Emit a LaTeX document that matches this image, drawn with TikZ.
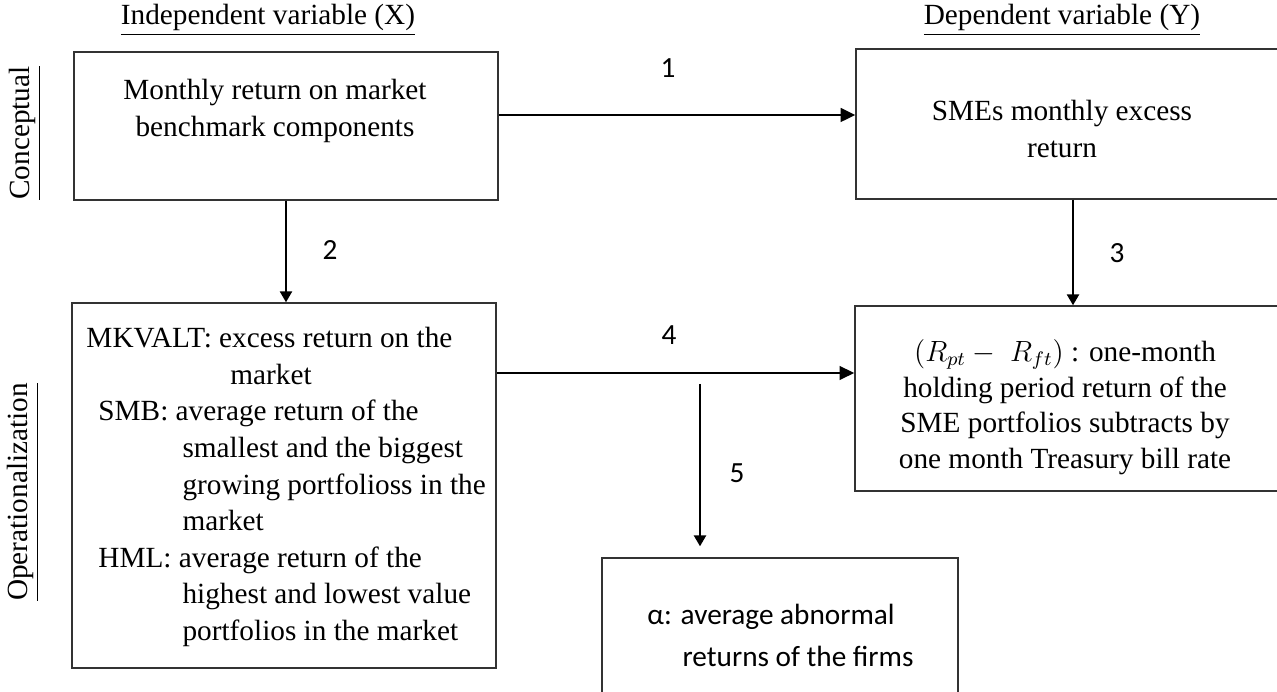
\documentclass[tikz,border=0pt]{standalone}
\usepackage{fontspec}
\setmainfont{Liberation Serif}
\newfontfamily\calibfont{Carlito}
\usetikzlibrary{positioning, arrows.meta, calc}

\tikzset{
	box/.style={draw=black!80, line width=0.6pt, inner sep=0pt},
	boxtext/.style={font=\fontsize{12}{15.5}\selectfont, align=center, inner sep=0pt},
	numlabel/.style={font=\calibfont\fontsize{12}{14}\selectfont, inner sep=0pt},
	heading/.style={font=\fontsize{12}{14}\selectfont, inner sep=0pt},
	thickarrow/.style={line width=1.2pt, -{Triangle[length=6pt,width=5.5pt]}},
	thinarrow/.style={line width=0.8pt, -{Triangle[length=4.5pt,width=5pt]}}
}

\begin{document}
\begin{tikzpicture}[x=0.41pt, y=-0.41pt]
		\useasboundingbox (0,0) rectangle (1277,692);
		
		%Headings
		\node[heading] (indepHead) at (268,20) {\underline{Independent variable (X)}};
		\node[heading] (depHead) at (1062,20) {\underline{Dependent variable (Y)}};
		\node[heading, rotate=90] (concLbl) at (25,133) {\underline{Conceptual}};
		\node[heading, rotate=90] (operLbl) at (23,492) {\underline{Operationalization}};
		
		%Boxes
		\node[box, minimum width=173.84pt, minimum height=60.68pt] (cpX) at (286,126) {};
		\node[box, minimum width=182pt, minimum height=61.5pt] (cpY) at (1078,124) {};
		\node[box, minimum width=173.84pt, minimum height=149.65pt] (opX) at (284,485.5) {};
		\node[box, minimum width=182.45pt, minimum height=75.85pt] (opY) at (1077.5,398.5) {};
		\node[box, minimum width=145.96pt, minimum height=66.42pt] (alpha) at (780,639) {};
		
		%Box texts
		\node[boxtext] (cpXtext) at (275,111) {Monthly return on market\\benchmark components};
		\node[boxtext] (cpYtext) at (1062,129) {SMEs monthly excess\\return};
		\node[boxtext, font=\fontsize{12}{14.6}\selectfont] (opYtext) at (1065,407)
		{$(R_{pt}-\;R_{ft})$ : one-month\\holding period return of the\\SME portfolios subtracts by\\one month Treasury bill rate};
		\node[boxtext, align=left, anchor=north west, font=\fontsize{12}{15}\selectfont] (opXtext) at (86,327)
		{MKVALT: excess return on the\\
			\hspace*{59pt}market\\
			\hspace*{4.9pt}SMB: average return of the\\
			\hspace*{39.4pt}smallest and the biggest\\
			\hspace*{39.4pt}growing portfolioss in the\\
			\hspace*{39.4pt}market\\
			\hspace*{4.9pt}HML: average return of the\\
			\hspace*{39.4pt}highest and lowest value\\
			\hspace*{39.4pt}portfolios in the market};
		\node[boxtext, align=left, anchor=north west, font=\calibfont\fontsize{12}{17}\selectfont] (alphatext) at (647,604)
		{α: average abnormal\\\hspace*{14.4pt}returns of the firms};
		
		%Arrows
		\coordinate (rowOne) at (0,115);
		\coordinate (rowFour) at (0,373);
		\coordinate (colThree) at (1073,0);
		\coordinate (split) at (700,384);
		\draw[thickarrow] (cpX.east |- rowOne) -- (cpY.west |- rowOne);
		\draw[thinarrow] (cpX.south) -- (cpX.south |- opX.north);
		\draw[thinarrow] (cpY.south -| colThree) -- (opY.north -| colThree);
		\draw[thickarrow] (opX.east |- rowFour) -- (opY.west |- rowFour);
		\draw[thinarrow, shorten >=4.5pt] (split) -- (split |- alpha.north);
		
		%Numbers
		\node[numlabel] (numOne) at (668,68) {1};
		\node[numlabel] (numTwo) at (330,250) {2};
		\node[numlabel] (numThree) at (1117,253) {3};
		\node[numlabel] (numFour) at (669,335) {4};
		\node[numlabel] (numFive) at (737,473) {5};
\end{tikzpicture}
\end{document}
